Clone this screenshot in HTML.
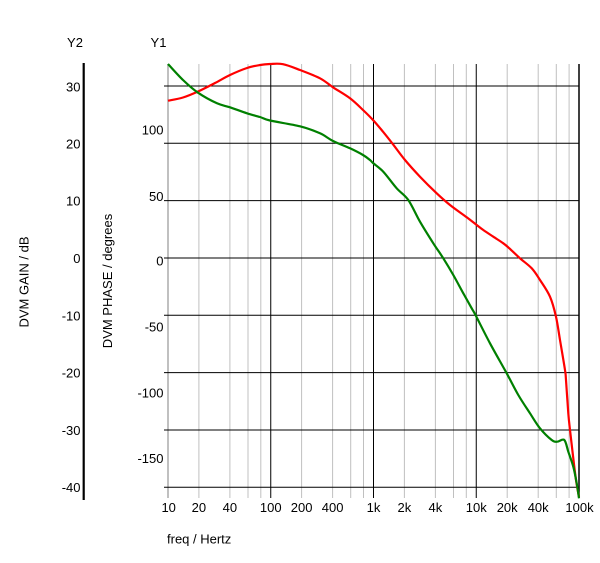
<!DOCTYPE html>
<html><head><meta charset="utf-8"><style>
html,body{margin:0;padding:0;background:#fff;}
svg{display:block;}
text{font-family:"Liberation Sans",Arial,sans-serif;font-size:13px;fill:#000;}
</style></head><body>
<svg id="s" width="600" height="563" viewBox="0 0 600 563" xmlns="http://www.w3.org/2000/svg">
<rect x="0" y="0" width="600" height="563" fill="#fff"/>
<g stroke="#c0c0c0" stroke-width="1">
<line x1="198.9" y1="64" x2="198.9" y2="498"/>
<line x1="229.9" y1="64" x2="229.9" y2="498"/>
<line x1="248" y1="64" x2="248" y2="498"/>
<line x1="260.8" y1="64" x2="260.8" y2="498"/>
<line x1="301.6" y1="64" x2="301.6" y2="498"/>
<line x1="332.6" y1="64" x2="332.6" y2="498"/>
<line x1="350.7" y1="64" x2="350.7" y2="498"/>
<line x1="363.5" y1="64" x2="363.5" y2="498"/>
<line x1="404.4" y1="64" x2="404.4" y2="498"/>
<line x1="435.4" y1="64" x2="435.4" y2="498"/>
<line x1="453.5" y1="64" x2="453.5" y2="498"/>
<line x1="466.3" y1="64" x2="466.3" y2="498"/>
<line x1="507.2" y1="64" x2="507.2" y2="498"/>
<line x1="538.2" y1="64" x2="538.2" y2="498"/>
<line x1="556.3" y1="64" x2="556.3" y2="498"/>
<line x1="569.1" y1="64" x2="569.1" y2="498"/>
</g>
<line x1="168" y1="64" x2="168" y2="498" stroke="#c0c0c0" stroke-width="2"/>
<g stroke="#000" stroke-width="1">
<line x1="164" y1="86" x2="579" y2="86"/>
<line x1="164" y1="143.3" x2="579" y2="143.3"/>
<line x1="164" y1="200.6" x2="579" y2="200.6"/>
<line x1="164" y1="258" x2="579" y2="258"/>
<line x1="164" y1="315.3" x2="579" y2="315.3"/>
<line x1="164" y1="372.6" x2="579" y2="372.6"/>
<line x1="164" y1="430" x2="579" y2="430"/>
<line x1="164" y1="487.3" x2="579" y2="487.3"/>
<line x1="270.75" y1="64" x2="270.75" y2="498"/>
<line x1="373.5" y1="64" x2="373.5" y2="498"/>
<line x1="476.25" y1="64" x2="476.25" y2="498"/>
</g>
<line x1="579" y1="64" x2="579" y2="498" stroke="#000" stroke-width="1.5"/>
<line x1="83.7" y1="63" x2="83.7" y2="500" stroke="#000" stroke-width="2.2"/>
<polyline id="red" fill="none" stroke="#ff0000" stroke-width="2.2" stroke-linejoin="round" points="168,100.7 183,97.5 198,91.5 215,83 230,75 247,68 260,65 270,64 283,64.2 300,70 320,78.3 333,87.3 350,98.3 363,110 373,120 383,131.7 393,144.3 405,160 420,176.7 436.7,193.3 450,205 466.7,217.3 476.7,225 483.3,230 493.3,236.7 503.3,243.3 509.3,248.3 520,258.3 531.7,268.3 540,280 550,296.7 556,316.7 560,340 565,370 566,380 568.3,413.3 570,430 572.7,453.3 576,480 579,497"/>
<polyline id="green" fill="none" stroke="#008000" stroke-width="2.2" stroke-linejoin="round" points="168,64 183,80 198,92.7 217,103.3 230,107.3 247,113.3 260,117 270,120.5 300,126.3 320,133.3 333,141 350,148.3 363,155 370,160 373,163 383.3,171.7 396.7,188.3 408.3,200 420,221.7 433.3,243.3 443.3,258.3 453.3,275 463.3,293.3 471.7,308.3 476,316 490,343.3 506.7,373.3 518.3,395 530,413.3 540,428.3 551.7,440 557.3,441.7 564.3,440 568.3,451.7 573.3,466.7 576.7,483.3 579,498.3"/>
<text x="75" y="47" text-anchor="middle">Y2</text>
<text x="158.5" y="47" text-anchor="middle">Y1</text>
<g text-anchor="end">
<text x="80.5" y="91.5">30</text>
<text x="80.5" y="148.5">20</text>
<text x="80.5" y="205.5">10</text>
<text x="80.5" y="263">0</text>
<text x="80.5" y="320.5">-10</text>
<text x="80.5" y="377.5">-20</text>
<text x="80.5" y="435">-30</text>
<text x="80.5" y="492">-40</text>
</g>
<g text-anchor="end">
<text x="163.5" y="134.3">100</text>
<text x="163.5" y="201">50</text>
<text x="163.5" y="265.3">0</text>
<text x="163.5" y="331.7">-50</text>
<text x="163.5" y="397.3">-100</text>
<text x="163.5" y="462.8">-150</text>
</g>
<g text-anchor="middle">
<text x="168.7" y="511.8">10</text>
<text x="198.9" y="511.8">20</text>
<text x="229.9" y="511.8">40</text>
<text x="270.75" y="511.8">100</text>
<text x="301.6" y="511.8">200</text>
<text x="332.6" y="511.8">400</text>
<text x="373.5" y="511.8">1k</text>
<text x="404.4" y="511.8">2k</text>
<text x="435.4" y="511.8">4k</text>
<text x="476.25" y="511.8">10k</text>
<text x="507.2" y="511.8">20k</text>
<text x="538.2" y="511.8">40k</text>
<text x="579.5" y="511.8">100k</text>
</g>
<text x="167" y="543.5">freq / Hertz</text>
<text transform="translate(28.5,282) rotate(-90)" text-anchor="middle">DVM GAIN / dB</text>
<text transform="translate(112,281) rotate(-90)" text-anchor="middle">DVM PHASE / degrees</text>
</svg>
<script>
(function(){
var NS="http://www.w3.org/2000/svg";
["red","green"].forEach(function(id){
  var pl=document.getElementById(id);
  var p=pl.getAttribute("points").trim().split(/\s+/).map(function(s){var a=s.split(",");return [+a[0],+a[1]];});
  var d="M"+p[0][0]+","+p[0][1];
  for(var i=0;i<p.length-1;i++){
    var p0=p[i>0?i-1:i],p1=p[i],p2=p[i+1],p3=p[i+2<p.length?i+2:i+1];
    var t=1/6;
    var c1x=p1[0]+(p2[0]-p0[0])*t,c1y=p1[1]+(p2[1]-p0[1])*t;
    var c2x=p2[0]-(p3[0]-p1[0])*t,c2y=p2[1]-(p3[1]-p1[1])*t;
    d+=" C"+c1x.toFixed(2)+","+c1y.toFixed(2)+" "+c2x.toFixed(2)+","+c2y.toFixed(2)+" "+p2[0]+","+p2[1];
  }
  var path=document.createElementNS(NS,"path");
  path.setAttribute("d",d);
  path.setAttribute("fill","none");
  path.setAttribute("stroke",pl.getAttribute("stroke"));
  path.setAttribute("stroke-width","2.2");
  path.setAttribute("stroke-linejoin","round");
  pl.parentNode.replaceChild(path,pl);
});
})();
</script>
</body></html>
